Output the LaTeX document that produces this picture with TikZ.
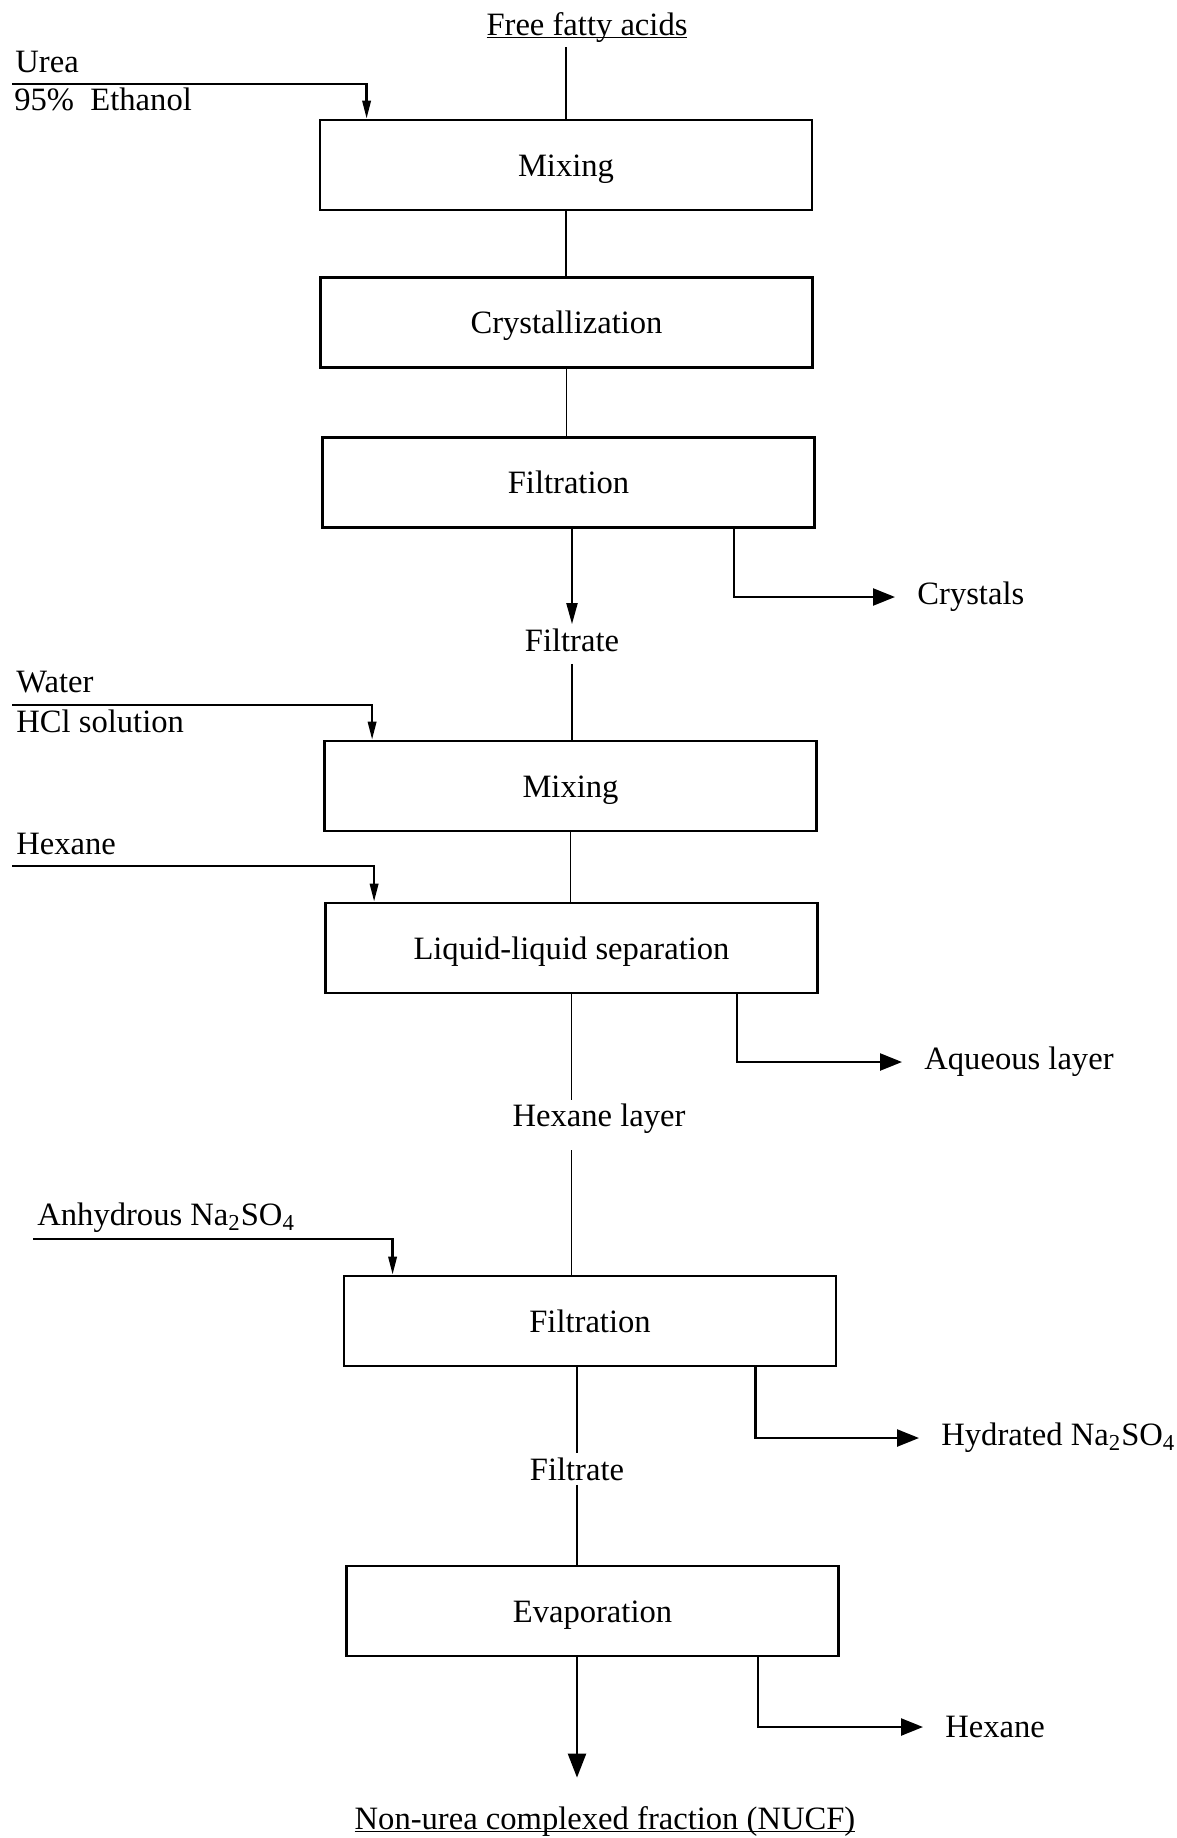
\documentclass[tikz,border=0pt]{standalone}
\usepackage{fontspec}
\setmainfont{Liberation Serif}
\usetikzlibrary{arrows.meta}

\begin{document}
\begin{tikzpicture}[x=0.5pt,y=-0.5pt,font=\fontsize{16.3}{19}\selectfont,
  every node/.style={inner sep=2pt},
  process/.style={draw,line width=1.4pt,minimum width=246pt,minimum height=45pt,inner sep=0pt,
    text height=11pt,text depth=0pt},
  flow/.style={line width=0.9pt},
  product/.style={line width=1.2pt,-{Triangle[length=11pt,width=8.5pt]},shorten >=9pt},
  stream/.style={line width=1pt,-{Triangle[length=10.5pt,width=5.5pt]}},
  feed/.style={line width=1.2pt,-{Triangle[length=9pt,width=4.2pt]}}]
  \useasboundingbox (0,0) rectangle (1177,1838);
  \fill[white] (0,0) rectangle (1177,1838);

  \node (ffa) at (587,37) {\underline{\smash{Free fatty acids}}};
  \node[process] (mix1) at (566,165) {Mixing};
  \node[process] (cryst) at (566.5,322.5) {Crystallization};
  \node[process] (filt1) at (568.5,482.5) {Filtration};
  \node (filtr1) at (572,640) {Filtrate};
  \node[anchor=west] (crys) at (913,597) {Crystals};
  \node[process] (mix2) at (570.5,786) {Mixing};
  \node[process] (lls) at (571.5,948) {Liquid-liquid separation};
  \node[anchor=west] (aq) at (920,1062) {Aqueous layer};
  \node (hexl) at (599,1119) {Hexane layer};
  \node[process] (filt2) at (590,1321) {Filtration};
  \node[anchor=west] (hyd) at (937,1438) {Hydrated Na\textsubscript{2}SO\textsubscript{4}};
  \node (filtr2) at (577,1469) {Filtrate};
  \node[process] (evap) at (592.5,1611) {Evaporation};
  \node[anchor=west] (hexout) at (941,1727) {Hexane};
  \node (nucf) at (605,1831) {\underline{\smash{Non-urea complexed fraction (NUCF)}}};

  \node[anchor=west] (urea) at (11,62) {Urea};
  \node[anchor=west] (etoh) at (10,99) {95\%~ Ethanol};
  \node[anchor=west] (water) at (12,682) {Water};
  \node[anchor=west] (hcl) at (12,721) {HCl solution};
  \node[anchor=west] (hexin) at (12,844) {Hexane};
  \node[anchor=west] (na2so4) at (33,1218) {Anhydrous Na\textsubscript{2}SO\textsubscript{4}};

  \coordinate (ureain) at (12,84);
  \coordinate (waterin) at (12,705);
  \coordinate (hexanein) at (12,866);
  \coordinate (saltin) at (33,1239);

  \draw[feed] (ureain) -| ([xshift=24pt]mix1.north west);
  \draw[feed] (waterin) -| ([xshift=24.5pt]mix2.north west);
  \draw[feed] (hexanein) -| ([xshift=25pt]lls.north west);
  \draw[feed] (saltin) -| ([xshift=25pt]filt2.north west);

  \draw[flow,shorten <=2pt] (ffa.south -| mix1.north) -- (mix1.north);
  \draw[flow] (mix1.south) -- (mix1.south |- cryst.north);
  \draw[flow] (cryst.south) -- (cryst.south |- filt1.north);
  \draw[stream] (filt1.south -| filtr1) -- (filtr1.north);
  \draw[product] ([xshift=-41pt]filt1.south east) |- (crys.west);
  \draw[flow,shorten <=4pt] (filtr1.south) -- (filtr1.south |- mix2.north);
  \draw[flow] (mix2.south) -- (mix2.south |- lls.north);
  \draw[flow] (lls.south) -- (lls.south |- hexl.north);
  \draw[product] ([xshift=-41pt]lls.south east) |- (aq.west);
  \draw[flow,shorten <=6pt] (hexl.south -| lls.south) -- (filt2.north -| lls.south);
  \draw[product] ([xshift=-41pt]filt2.south east) |- (hyd.west);
  \draw[flow] (filt2.south -| filtr2) -- (filtr2.north);
  \draw[flow] (filtr2.south) -- (evap.north -| filtr2);
  \draw[product] ([xshift=-41pt]evap.south east) |- (hexout.west);
  \draw[line width=1.2pt,-{Triangle[length=12pt,width=9pt]},shorten >=23.5pt] (evap.south -| filtr2) -- (nucf.north -| filtr2);
\end{tikzpicture}
\end{document}
